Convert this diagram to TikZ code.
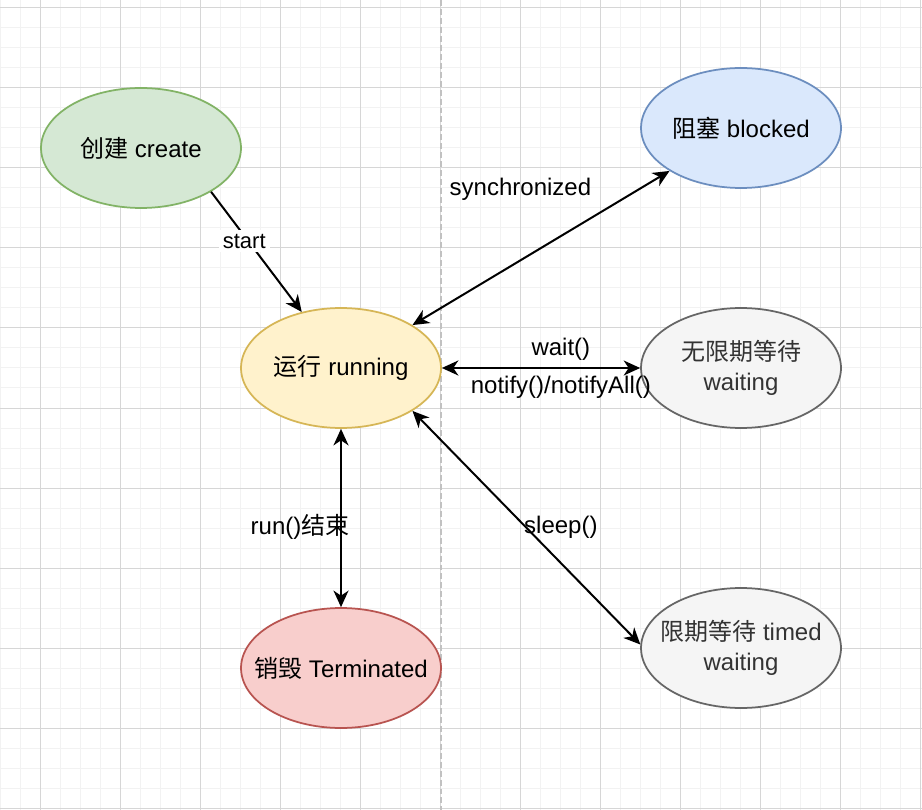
\documentclass[tikz,border=0pt]{standalone}
\usepackage{fontspec}
\setmainfont{Liberation Sans}
\newfontfamily\cjk{Noto Sans CJK SC}
\usetikzlibrary{arrows.meta, shapes.geometric}

\definecolor{gridminor}{HTML}{F2F2F2}
\definecolor{gridmajor}{HTML}{D6D6D6}
\definecolor{createfill}{HTML}{D5E8D4}
\definecolor{createline}{HTML}{82B366}
\definecolor{blockedfill}{HTML}{DAE8FC}
\definecolor{blockedline}{HTML}{6C8EBF}
\definecolor{runfill}{HTML}{FFF2CC}
\definecolor{runline}{HTML}{D6B656}
\definecolor{waitfill}{HTML}{F5F5F5}
\definecolor{waitline}{HTML}{666666}
\definecolor{waittext}{HTML}{333333}
\definecolor{endfill}{HTML}{F8CECC}
\definecolor{endline}{HTML}{B85450}

\begin{document}
\begin{tikzpicture}[x=0.02cm, y=-0.02cm,
                    >={Stealth[length=0.33cm, width=0.3cm, inset=0.1cm]},
                    state/.style={ellipse, draw, line width=0.035cm,
                                  minimum width=4cm, minimum height=2.4cm,
                                  inner xsep=-0.6cm, inner ysep=0pt, align=center,
                                  font=\fontsize{13.66pt}{17.1pt}\selectfont},
                    trans/.style={<->, line width=0.04cm},
                    lbl/.style={inner sep=1pt, font=\fontsize{13.66pt}{16pt}\selectfont}]
    \useasboundingbox (0,0) rectangle (922,810);
    \fill[white] (0,0) rectangle (922,810);

    \foreach \x in {0,20,...,920}
        \draw[gridminor, line width=0.02cm] (\x,0) -- (\x,810);
    \foreach \y in {8,28,...,808}
        \draw[gridminor, line width=0.02cm] (0,\y) -- (922,\y);
    \foreach \x in {40,120,...,920}
        \draw[gridmajor, line width=0.02cm] (\x,0) -- (\x,810);
    \foreach \y in {8,88,...,808}
        \draw[gridmajor, line width=0.02cm] (0,\y) -- (922,\y);
    \draw[gridmajor!90!black, line width=0.03cm, dash pattern=on 3.4pt off 1.7pt] (441,0) -- (441,810);

    \node[state, fill=createfill, draw=createline] (create) at (141,148) {{\cjk 创建} create};
    \node[state, fill=blockedfill, draw=blockedline] (blocked) at (741,128) {{\cjk 阻塞} blocked};
    \node[state, fill=runfill, draw=runline] (running) at (341,368) {{\cjk 运行} running};
    \node[state, fill=waitfill, draw=waitline, text=waittext] (waiting) at (741,368) {{\cjk 无限期等待}\\waiting};
    \node[state, fill=waitfill, draw=waitline, text=waittext] (timed) at (741,648) {{\cjk 限期等待} timed\\waiting};
    \node[state, fill=endfill, draw=endline] (terminated) at (341,668) {{\cjk 销毁} Terminated};

    \draw[->, line width=0.04cm] (create.-32) -- node[lbl, fill=white, inner sep=0.08cm, pos=0.41, xshift=-0.08cm, font=\fontsize{12.5pt}{15pt}\selectfont] (startlbl) {start} (running.125);
    \draw[trans] (running.31) -- node[lbl, pos=0.42, yshift=1.43cm] (synclbl) {synchronized} (blocked.211);
    \draw[trans] (running.east) -- node[lbl, pos=0.6, yshift=0.37cm] (waitlbl) {wait()}
                                   node[lbl, pos=0.6, yshift=-0.38cm] (notifylbl) {notify()/notifyAll()} (waiting.west);
    \draw[trans] (running.-31) -- node[lbl, pos=0.5, xshift=0.69cm] (sleeplbl) {sleep()} (timed.178);
    \draw[trans] (running.south) -- node[lbl, pos=0.55, xshift=-0.82cm] (runlbl) {run(){\cjk 结束}} (terminated.north);
\end{tikzpicture}
\end{document}
